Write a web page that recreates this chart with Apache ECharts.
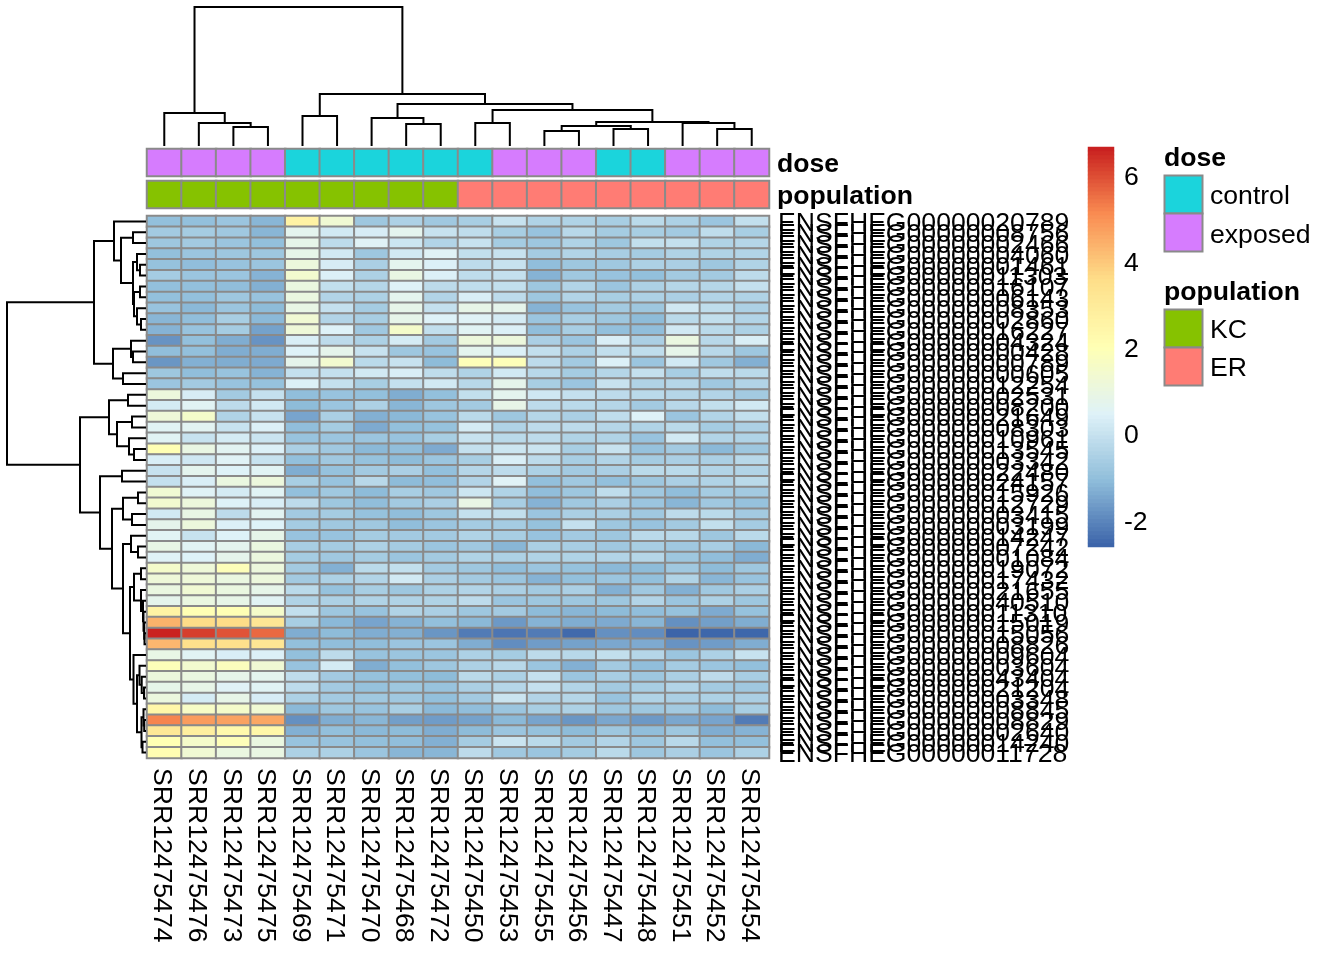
<!DOCTYPE html>
<html>
<head>
<meta charset="utf-8">
<style>html,body{margin:0;padding:0;background:#fff}#chart{width:1344px;height:960px}</style>
<script src="https://cdn.jsdelivr.net/npm/echarts@6/dist/echarts.min.js"></script>
</head>
<body>
<div id="chart"></div>
<script>
const samples = ['SRR12475474','SRR12475476','SRR12475473','SRR12475475','SRR12475469','SRR12475471','SRR12475470','SRR12475468','SRR12475472','SRR12475450','SRR12475453','SRR12475455','SRR12475456','SRR12475447','SRR12475448','SRR12475451','SRR12475452','SRR12475454'];
const doseLevels = ['control','exposed'];
const populationLevels = ['KC','ER'];
const doseColors = ['#1BD4DC','#D67CFE'];
const populationColors = ['#86C200','#FF7C74'];
const dose = ['exposed','exposed','exposed','exposed','control','control','control','control','control','control','exposed','exposed','exposed','control','control','exposed','exposed','exposed'];
const population = ['KC','KC','KC','KC','KC','KC','KC','KC','KC','ER','ER','ER','ER','ER','ER','ER','ER','ER'];
const genes = ['ENSFHEG00000020789','ENSFHEG00000008756','ENSFHEG00000002466','ENSFHEG00000004060','ENSFHEG00000001461','ENSFHEG00000011303','ENSFHEG00000016107','ENSFHEG00000006143','ENSFHEG00000008353','ENSFHEG00000002860','ENSFHEG00000016227','ENSFHEG00000004324','ENSFHEG00000000428','ENSFHEG00000000789','ENSFHEG00000000605','ENSFHEG00000012254','ENSFHEG00000002531','ENSFHEG00000008200','ENSFHEG00000021649','ENSFHEG00000008303','ENSFHEG00000010961','ENSFHEG00000013545','ENSFHEG00000003342','ENSFHEG00000022480','ENSFHEG00000024157','ENSFHEG00000015926','ENSFHEG00000012729','ENSFHEG00000003415','ENSFHEG00000003199','ENSFHEG00000014247','ENSFHEG00000007242','ENSFHEG00000001084','ENSFHEG00000019072','ENSFHEG00000017432','ENSFHEG00000021655','ENSFHEG00000040510','ENSFHEG00000011310','ENSFHEG00000015019','ENSFHEG00000015056','ENSFHEG00000008826','ENSFHEG00000009604','ENSFHEG00000003604','ENSFHEG00000043404','ENSFHEG00000021204','ENSFHEG00000003348','ENSFHEG00000008845','ENSFHEG00000008829','ENSFHEG00000002640','ENSFHEG00000014240','ENSFHEG00000011728'];
const expression = [
[-1.0,-1.0,-0.85,-1.2,2.6,1.3,-0.8,-0.5,-0.75,-0.6,0.0,-0.45,-0.45,-0.6,-0.25,-0.5,-0.85,-0.1],
[-0.7,-0.65,-0.75,-1.2,0.7,0.2,0.3,0.7,0,-0.15,-0.6,-0.9,-0.3,-0.65,-0.6,-0.7,-0.15,-0.6],
[-0.8,-0.7,-0.85,-1.0,0.8,-0.2,0.5,0.1,-0.4,0,-0.65,-0.8,-0.45,-0.8,-0.1,-0.05,-0.45,-0.35],
[-1,-0.85,-0.8,-0.8,0.8,0.2,-0.8,0.2,0.5,-0.1,0,-0.65,-0.4,-0.6,-0.65,-0.45,-0.45,-0.4],
[-0.95,-1.05,-0.9,-0.85,1.1,0.3,-0.55,0.7,0.4,-0.2,0,-1.05,-0.8,-0.75,-0.5,-0.55,-0.8,-0.45],
[-0.65,-0.85,-0.85,-1.25,1.4,0.4,-0.5,0.95,0.4,-0.15,-0.05,-1.25,-0.75,-0.9,-1.0,-0.7,-0.7,-0.2],
[-1,-1,-1.05,-1.3,1.0,-0.1,-0.35,0.45,-0.2,-0.15,-0.1,-0.8,-0.4,-0.85,-0.5,-0.35,-0.35,-0.05],
[-1,-1,-0.8,-0.9,1.0,-0.4,-0.5,0.7,-0.4,0.35,-0.2,-0.8,-0.4,-0.6,-0.5,-0.55,-0.4,-0.45],
[-0.9,-1.15,-0.85,-1.1,0.9,-0.05,-0.65,0.8,-0.05,0.85,0.75,-1.25,-0.9,-0.7,-0.8,0.15,-0.15,-0.5],
[-1.2,-1.05,-0.6,-1.15,1.3,-0.4,-0.6,0.8,0.45,0.5,0.25,-0.85,-0.6,-0.8,-1.1,-0.25,-0.1,-0.4],
[-1.25,-0.9,-0.65,-1.55,1.2,0.45,-0.75,1.5,-0.1,0.55,0.4,-1.05,-0.6,-1,-1.05,0.2,-0.25,-0.5],
[-1.8,-1.0,-1.35,-1.8,0.35,-0.2,-0.5,0.25,-0.7,1.1,1.1,-0.55,-0.85,0.35,-0.55,1.0,-0.3,0.35],
[-1.05,-1,-1.35,-1.35,0.45,0.75,0,-0.8,-0.9,0.7,0.4,-0.1,-0.5,-0.1,-0.15,0.8,-0.3,-0.8],
[-1.75,-1.3,-1.35,-1.4,0.75,1.4,-0.25,0,-1.1,1.9,1.9,-0.2,-0.7,0.4,-0.85,0.2,-0.75,-1.3],
[-0.8,-1.05,-0.9,-1.25,-0.05,-0.05,0.2,0.35,-0.15,-0.45,0.2,-0.3,-0.65,-0.35,-0.05,-0.6,-0.15,-0.25],
[-0.85,-0.7,-0.9,-0.95,0.4,-0.05,-0.6,-0.05,0.2,-0.3,0.75,-0.6,-0.85,0,-0.45,-0.35,-0.75,-0.4],
[1.1,0.3,-0.7,-0.05,-1.05,-0.9,-1,-1.35,-1,-0.1,0.7,0.15,-0.05,-0.2,-0.25,-0.35,-0.4,-0.7],
[0.25,0.55,-0.2,0.2,-1.1,-0.85,-0.5,-1.2,-0.8,-0.7,0.85,-0.2,-0.25,-0.35,-0.7,-0.3,-0.1,0.2],
[1.2,1.5,-0.45,0,-1.5,-0.55,-1.3,-1.15,-0.9,-0.25,-0.8,-0.35,-0.55,-0.15,0.45,-0.85,-0.4,-0.1],
[0.55,0.6,0,0.4,-1.05,-0.65,-1.4,-1,-0.95,0.25,-0.45,-0.2,-0.2,-0.35,-0.45,-0.25,-0.65,-0.5],
[0.55,0,0.25,0.05,-0.9,-0.85,-0.85,-0.9,-0.6,0,-0.25,-0.2,-0.45,-0.45,-0.9,0.2,-0.4,-0.45],
[2.0,0.95,0.6,0.4,-0.55,-0.75,-1.15,-1.05,-1.4,-0.05,0.1,0.05,-0.6,0,-0.95,-0.7,-1.15,-0.8],
[0.35,0.15,0.5,0,-1,-0.75,-0.95,-1.1,-0.85,-0.6,0.35,-0.2,-0.6,-0.4,-0.65,-0.55,-0.55,-0.3],
[0,0.7,0.45,0.55,-1.35,-0.95,-0.7,-0.55,-1,-0.35,-0.2,-0.5,-0.7,-0.55,-0.25,-0.25,-0.4,-0.4],
[-0.05,0.35,1.0,1.1,-0.6,-0.9,-0.3,-1.1,-1.05,-0.4,0.5,-1,-0.75,-1,-0.8,-0.55,-0.45,-0.25],
[1.3,0.5,0.25,0.55,-1,-0.75,-1.1,-0.6,-0.75,0.1,-0.45,-1.05,-0.8,-0.15,-0.75,-1.05,-0.65,-0.7],
[1.4,1.1,0.45,0.35,-0.2,-0.8,-1.05,-0.7,-0.55,0.9,-0.6,-1.25,-0.75,-0.55,-0.85,-1.2,-0.75,-0.95],
[0.2,0.9,-0.2,0.6,-0.7,-0.65,-0.95,-1.05,-0.8,-0.05,-0.1,-0.85,-0.55,-0.55,-0.75,-0.2,-0.25,-0.7],
[0.75,1.1,0.4,0.45,-0.65,-0.75,-0.75,-1.05,-0.85,-0.65,-0.65,-0.95,-0.05,-0.8,-0.9,-0.7,-0.1,-0.65],
[0.55,0,0.45,0.8,-0.9,-0.9,-0.65,-0.7,-0.7,-0.45,-0.6,-0.9,-0.7,-0.8,-0.25,-0.3,-0.8,-0.25],
[0.9,0.55,0.7,1.0,-0.6,-0.65,-0.5,-0.65,-0.85,-0.75,-1.2,-0.55,-0.6,-0.75,-0.6,-0.75,-0.6,-1.15],
[0.5,0.45,0.75,1.05,-0.65,-0.75,-0.65,-0.85,-0.7,-0.45,-0.5,-0.45,-0.45,-0.4,-0.35,-0.8,-1.05,-1.35],
[1.5,1.2,1.9,1.1,-0.7,-1.3,-0.25,-0.1,-0.7,-0.8,-1.05,-0.85,-0.95,-1.15,-1.1,-0.75,-1.1,-0.8],
[1.2,1.2,1,1.1,-0.7,-0.5,-0.4,0.2,-0.55,-0.7,-0.85,-1.25,-1,-0.85,-1,-0.45,-1.2,-0.9],
[1,1.3,1,0.8,-0.25,-0.95,-0.6,-0.8,-0.5,-0.4,-0.55,-0.7,-0.55,-1.3,-0.75,-1.3,-0.75,-0.55],
[0.75,1.0,0.85,0.55,-0.45,-0.5,-0.45,-0.45,-0.45,-0.2,-0.85,-0.8,-0.8,-0.8,-0.4,-0.85,-0.5,-0.8],
[2.6,2.0,2.0,1.5,-0.1,-0.8,-0.9,-0.45,-0.55,-0.8,-0.7,-1.1,-1.2,-1.1,-1.05,-0.95,-1.4,-0.95],
[4.4,3.6,3.6,3.2,-0.6,-1.15,-1.5,-1.25,-1.0,-1.15,-1.7,-1.25,-1.35,-1.4,-1.2,-1.85,-1.6,-1.35],
[6.6,6.2,5.9,5.6,-1.35,-1.1,-1.35,-1.3,-1.75,-2.2,-2.3,-2.2,-2.5,-1.85,-1.9,-2.6,-2.55,-2.55],
[4.3,3.5,3.5,3.2,-1.0,-1.05,-1.05,-0.85,-0.85,-1.35,-1.9,-1.65,-1.55,-1.45,-1.4,-1.8,-1.65,-1.35],
[0.9,0.55,0.35,0.4,-1,-0.2,-0.9,-0.85,-0.85,-0.5,-0.65,-0.2,-0.3,-0.1,-0.35,-0.85,-0.5,0],
[1.9,1.4,1.8,1.3,-0.9,0.25,-1.35,-1,-0.8,-0.5,-0.3,-0.85,-1.3,-0.7,-1.05,-0.65,-0.85,-1],
[1.1,1.0,0.8,0.7,-0.15,-0.7,-0.95,-1,-1.1,-0.25,-0.5,-0.05,-0.85,-0.6,-0.8,-0.55,-0.2,-0.6],
[0.8,0.85,0.5,0.55,-0.2,-0.7,-0.95,-0.8,-0.9,-0.55,-0.35,-0.05,-0.4,-0.7,-0.6,-0.4,-0.7,-0.75],
[1.05,0.25,0.85,0.3,-0.5,-0.7,-0.75,-0.75,-1,-0.7,0.05,-0.4,-0.35,-0.9,-0.45,-0.55,-0.5,-0.55],
[2.4,1.6,1.5,1.3,-1.15,-0.8,-0.9,-0.6,-1.15,-1.05,-0.85,-0.6,-0.5,-0.8,-0.8,-0.7,-1.1,-0.6],
[5.2,4.8,4.7,4.6,-1.85,-1.35,-1.2,-1.6,-1.65,-1.55,-1.15,-1.5,-1.75,-1.45,-1.7,-1.45,-1.5,-2.2],
[3.1,2.8,2.3,2.4,-1.3,-1,-1.15,-1.1,-1.35,-1.1,-0.85,-0.95,-1.1,-0.8,-1.05,-0.8,-1.35,-1.25],
[2.0,1.5,1.9,1.0,-0.9,-0.9,-1,-1.05,-1.3,-0.65,0.05,-0.25,-0.7,-0.4,-0.8,-0.3,-1,-1],
[2.1,1.3,1.0,0.95,-0.5,-0.5,-0.85,-1.2,-1.2,-0.2,-0.75,-0.85,-0.65,-0.25,-0.8,-0.55,-0.85,-0.5]
];
const colourStops = ['#3A62A8','#8FBDDA','#DFF2F8','#FFFFB4','#FEDF8A','#F98C52','#C81E1E'];
const colourMin = -2.63, colourMax = 6.65;
const colourTicks = [-2,0,2,4,6];
const colourSteps = 100;
// hclust-style merges: [left, right, height]; negative = leaf number, positive = earlier merge number
const columnMerges = [
[-3,-4,19],[-2,1,23],[-1,2,33],[-5,-6,30],[-8,-9,22],[-7,5,28],[-10,-11,23],[-12,-13,15],[-14,-15,17],[8,9,20],[-17,-18,17],[-16,11,23],[10,12,24],[7,13,36],[6,14,42],[4,15,52],[3,16,139]
];
const rowMerges = [
[-5,-6,6],[-4,1,9],[-7,-8,6],[-10,-11,5],[-9,4,9],[3,5,12],[2,6,13],[-2,-3,13],[8,7,25],[-1,9,32],
[-13,-14,13],[-12,11,15],[-15,-16,23],[12,13,33],[10,14,52],
[-17,-18,18],[-19,-20,14],[-22,-23,12],[-21,18,17],[17,19,29],[16,20,37],
[-24,-25,24],[-26,-27,8],[-28,-29,14],[23,24,23],[-31,-32,8],[-30,26,15],
[-33,-34,5],[-39,-40,1.5],[-38,29,1.8],[-37,30,2.5],[-36,31,3],[-35,32,5],[28,33,12],
[-44,-45,2],[-43,35,4.3],[-42,36,6.5],[-47,-48,1.8],[-46,38,2.5],[-49,-50,3.5],[39,40,4.5],[37,41,9],[-41,42,12.5],
[34,43,16],[27,44,23],[25,45,34],[22,46,46],[21,47,66],[15,48,139]
];

const FONT = '"Liberation Sans", Helvetica, Arial, sans-serif';
const FS = 26.6;
const CELL = {borderColor:'#8A8A8A',borderWidth:2};
// rich label style that sits the text about 2.5px lower in its own frame
const labelStyle = (weight) => ({
  color:'#000',fontSize:FS,fontFamily:FONT,fontWeight:weight||'normal',
  formatter:v=>'{a|'+v+'}',
  rich:{a:{color:'#000',fontSize:FS,fontFamily:FONT,fontWeight:weight||'normal',padding:[5,0,0,0]}}
});

function segments(merges){
  const pos = [], h = [], out = [];
  const get = id => id < 0 ? [-id - 0.5, 0] : [pos[id-1], h[id-1]];
  merges.forEach(m => {
    const a = get(m[0]), b = get(m[1]);
    pos.push((a[0]+b[0])/2); h.push(m[2]);
    out.push([a[0],a[1],b[0],b[1],m[2]]);
  });
  return out;
}
const heatData = [];
expression.forEach((row,r) => row.forEach((v,c) => heatData.push([c,r,v])));
const rampLevels = [];
for (let i=0;i<colourSteps;i++) rampLevels.push(colourMin+(i+0.5)*(colourMax-colourMin)/colourSteps);

const hiddenAxis = (type, extra) => Object.assign({type, show:false}, extra);
const option = {
  animation:false,
  backgroundColor:'#fff',
  textStyle:{fontFamily:FONT},
  grid:[
    {left:147,top:216,width:622,height:542},
    {left:147,top:149,width:622,height:27},
    {left:147,top:181,width:622,height:27},
    {left:147,top:7,width:622,height:139},
    {left:7,top:216,width:139,height:542},
    {left:1088,top:147,width:26,height:400}
  ],
  xAxis:[
    {gridIndex:0,type:'category',data:samples,position:'bottom',axisLine:{show:false},axisTick:{show:false},splitLine:{show:false},
     axisLabel:Object.assign({interval:0,rotate:-90,margin:10},labelStyle())},
    hiddenAxis('category',{gridIndex:1,data:samples}),
    hiddenAxis('category',{gridIndex:2,data:samples}),
    hiddenAxis('value',{gridIndex:3,min:0,max:18}),
    hiddenAxis('value',{gridIndex:4,min:0,max:139,inverse:true}),
    hiddenAxis('category',{gridIndex:5,data:['scale']})
  ],
  yAxis:[
    {gridIndex:0,type:'category',data:genes,inverse:true,position:'right',axisLine:{show:false},axisTick:{show:false},splitLine:{show:false},
     axisLabel:Object.assign({interval:0,margin:9},labelStyle())},
    {gridIndex:1,type:'category',data:['dose'],position:'right',axisLine:{show:false},axisTick:{show:false},
     axisLabel:Object.assign({margin:8},labelStyle('bold'))},
    {gridIndex:2,type:'category',data:['population'],position:'right',axisLine:{show:false},axisTick:{show:false},
     axisLabel:Object.assign({margin:8},labelStyle('bold'))},
    hiddenAxis('value',{gridIndex:3,min:0,max:139}),
    hiddenAxis('value',{gridIndex:4,min:0,max:50,inverse:true}),
    {gridIndex:5,type:'value',min:colourMin,max:colourMax,position:'right',axisLine:{show:false},axisTick:{show:false},splitLine:{show:false},
     axisLabel:Object.assign({margin:10,customValues:colourTicks},labelStyle())},
    hiddenAxis('category',{gridIndex:5,data:rampLevels.map((l,i)=>i)})
  ],
  visualMap:[
    {type:'continuous',show:false,seriesIndex:[0,5],dimension:2,min:colourMin,max:colourMax,inRange:{color:colourStops}},
    {type:'piecewise',seriesIndex:1,dimension:2,show:false,pieces:doseLevels.map((l,i)=>({value:i,color:doseColors[i]}))},
    {type:'piecewise',seriesIndex:2,dimension:2,show:false,pieces:populationLevels.map((l,i)=>({value:i,color:populationColors[i]}))}
  ],
  series:[
    {type:'heatmap',xAxisIndex:0,yAxisIndex:0,data:heatData,silent:true,itemStyle:CELL,emphasis:{disabled:true}},
    {type:'heatmap',xAxisIndex:1,yAxisIndex:1,data:dose.map((d,i)=>[i,0,doseLevels.indexOf(d)]),silent:true,itemStyle:CELL,emphasis:{disabled:true}},
    {type:'heatmap',xAxisIndex:2,yAxisIndex:2,data:population.map((d,i)=>[i,0,populationLevels.indexOf(d)]),silent:true,itemStyle:CELL,emphasis:{disabled:true}},
    {type:'custom',xAxisIndex:3,yAxisIndex:3,silent:true,clip:false,data:segments(columnMerges),encode:{x:[0,2],y:[1,3,4]},
     renderItem:(p,api)=>{
       const pts=[[api.value(0),api.value(1)],[api.value(0),api.value(4)],[api.value(2),api.value(4)],[api.value(2),api.value(3)]].map(q=>api.coord(q));
       return {type:'polyline',shape:{points:pts},style:{stroke:'#000',lineWidth:2,fill:null}};
     }},
    {type:'custom',xAxisIndex:4,yAxisIndex:4,silent:true,clip:false,data:segments(rowMerges),encode:{y:[0,2],x:[1,3,4]},
     renderItem:(p,api)=>{
       const pts=[[api.value(1),api.value(0)],[api.value(4),api.value(0)],[api.value(4),api.value(2)],[api.value(3),api.value(2)]].map(q=>api.coord(q));
       return {type:'polyline',shape:{points:pts},style:{stroke:'#000',lineWidth:2,fill:null}};
     }},
    {type:'heatmap',xAxisIndex:5,yAxisIndex:6,data:rampLevels.map((l,i)=>[0,i,l]),silent:true,itemStyle:{borderWidth:0},emphasis:{disabled:true}}
  ],
  graphic:{elements:[
    {type:'text',x:1164,y:159,style:{text:'dose',font:'bold '+FS+'px '+FONT,fill:'#000',verticalAlign:'middle'}},
    {type:'rect',shape:{x:1164.5,y:175.5,width:38,height:38},style:{fill:doseColors[0],stroke:'#8A8A8A',lineWidth:2}},
    {type:'rect',shape:{x:1164.5,y:213.5,width:38,height:38},style:{fill:doseColors[1],stroke:'#8A8A8A',lineWidth:2}},
    {type:'text',x:1210,y:197,style:{text:doseLevels[0],font:FS+'px '+FONT,fill:'#000',verticalAlign:'middle'}},
    {type:'text',x:1210,y:236,style:{text:doseLevels[1],font:FS+'px '+FONT,fill:'#000',verticalAlign:'middle'}},
    {type:'text',x:1164,y:293,style:{text:'population',font:'bold '+FS+'px '+FONT,fill:'#000',verticalAlign:'middle'}},
    {type:'rect',shape:{x:1164.5,y:309.5,width:38,height:38},style:{fill:populationColors[0],stroke:'#8A8A8A',lineWidth:2}},
    {type:'rect',shape:{x:1164.5,y:347.5,width:38,height:38},style:{fill:populationColors[1],stroke:'#8A8A8A',lineWidth:2}},
    {type:'text',x:1210,y:331,style:{text:populationLevels[0],font:FS+'px '+FONT,fill:'#000',verticalAlign:'middle'}},
    {type:'text',x:1210,y:369,style:{text:populationLevels[1],font:FS+'px '+FONT,fill:'#000',verticalAlign:'middle'}}
  ]}
};
echarts.init(document.getElementById('chart')).setOption(option);
</script>
</body>
</html>
